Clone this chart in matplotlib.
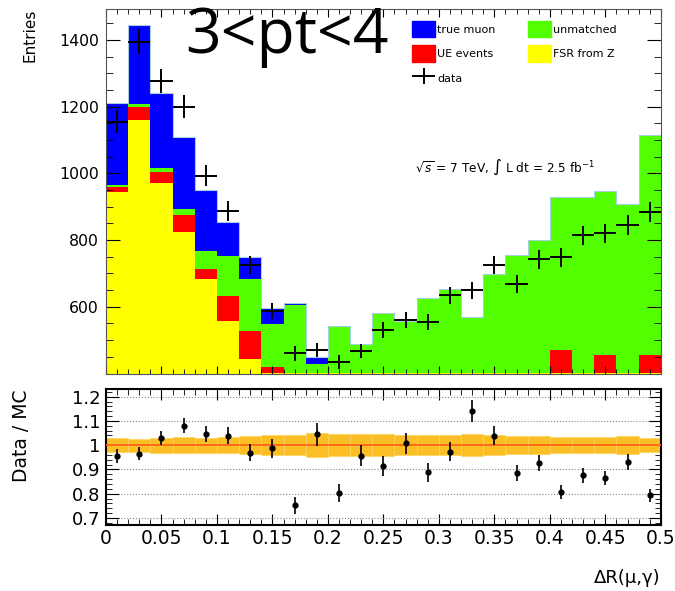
import numpy as np
import matplotlib
matplotlib.use("Agg")
import matplotlib.pyplot as plt
from matplotlib.patches import Patch
from matplotlib.legend_handler import HandlerErrorbar
from matplotlib.ticker import MultipleLocator

# binning in dR(mu, gamma)
edges = np.linspace(0.0, 0.5, 26)
centers = 0.5 * (edges[:-1] + edges[1:])

# MC stack components (bottom to top)
fsr_z = [943, 1160, 972, 825, 682, 557, 443, 403, 403, 403, 403, 403, 403,
         403, 403, 403, 403, 403, 403, 403, 403, 403, 403, 403, 403]
ue_events = [17, 38, 31, 51, 32, 75, 85, 17, 0, 0, 0, 0, 0,
             0, 0, 0, 0, 0, 0, 0, 67, 0, 52, 0, 52]
unmatched = [5, 9, 12, 16, 54, 120, 155, 128, 201, 27, 139, 85, 177,
             153, 222, 249, 167, 295, 352, 397, 458, 527, 493, 504, 660]
true_muon = [245, 238, 225, 218, 182, 102, 65, 47, 8, 20, 0, 0, 0,
             0, 0, 0, 0, 0, 0, 0, 0, 0, 0, 0, 0]

data = [1155, 1395, 1277, 1200, 993, 888, 725, 587, 460, 470, 435, 467, 530,
        560, 555, 635, 650, 725, 668, 742, 748, 815, 820, 845, 885]

# relative MC stat uncertainty per bin
mc_rel_err = [0.030, 0.027, 0.031, 0.032, 0.031, 0.034, 0.036, 0.042, 0.042,
              0.049, 0.045, 0.046, 0.046, 0.042, 0.040, 0.042, 0.046, 0.041,
              0.038, 0.037, 0.034, 0.034, 0.032, 0.036, 0.029]

c_blue, c_green, c_red, c_yellow = "#0000FF", "#52FF00", "#FF0000", "#FFFF00"

fig = plt.figure(figsize=(6.75, 5.91), dpi=100)
ax = fig.add_axes([0.157, 0.368, 0.822, 0.617])
ax2 = fig.add_axes([0.157, 0.112, 0.822, 0.230])

# stacked histogram
layers = [(fsr_z, c_yellow), (ue_events, c_red), (unmatched, c_green), (true_muon, c_blue)]
base = np.zeros(len(centers))
for vals, col in layers:
    top = base + np.array(vals, dtype=float)
    ax.stairs(top, edges, baseline=base, fill=True, color=col, lw=0)
    base = top
mc_total = base
ax.stairs(mc_total, edges, baseline=None, color="#a8cfe0", lw=0.8)

data = np.array(data, dtype=float)
derr = np.sqrt(data)
eb = ax.errorbar(centers, data, xerr=0.01, yerr=derr, fmt="none",
                 ecolor="black", elinewidth=1.4, capsize=0)

ax.set_xlim(0, 0.5)
ax.set_ylim(400, 1493)
ax.set_xticklabels([])
ax.xaxis.set_major_locator(MultipleLocator(0.05))
ax.xaxis.set_minor_locator(MultipleLocator(0.01))
ax.yaxis.set_major_locator(MultipleLocator(200))
ax.yaxis.set_minor_locator(MultipleLocator(50))
ax.tick_params(which="both", direction="in", top=True, right=True, labelsize=11.3, pad=5)
ax.tick_params(axis="y", which="major", length=10)
ax.tick_params(axis="y", which="minor", length=5)
ax.tick_params(axis="x", which="major", length=6)
ax.tick_params(axis="x", which="minor", length=3.5)
ax.set_yticks([600, 800, 1000, 1200, 1400])
for sp in ax.spines.values():
    sp.set_color("#555555")

handles = [Patch(color=c_blue), Patch(color=c_red), eb,
           Patch(color=c_green), Patch(color=c_yellow)]
labels = ["true muon", "UE events", "data", "unmatched", "FSR from Z"]
fig.legend(handles, labels, ncol=2, loc="upper left",
           bbox_to_anchor=(412 / 675, 1 - 21 / 591), bbox_transform=fig.transFigure,
           frameon=False, fontsize=8, borderpad=0, borderaxespad=0,
           handlelength=2.07, handleheight=1.9, handletextpad=0.2,
           labelspacing=0.72, columnspacing=2.9,
           handler_map={type(eb): HandlerErrorbar(xerr_size=1.0, yerr_size=0.7)})

fig.text(415 / 675, 1 - 167 / 591,
         r"$\sqrt{s}$ = 7 TeV, $\int$ L dt = 2.5 fb$^{-1}$",
         fontsize=8.7, va="center", ha="left")

fig.text(185 / 675, 1 - 53 / 591, "3<pt<4", fontsize=45, family="Open Sans",
         va="baseline", ha="left")

fig.text(30 / 675, 1 - 9 / 591, "Entries", rotation=90, fontsize=11,
         va="top", ha="center")

# ratio panel
ratio = data / mc_total
rerr = derr / mc_total
band = np.array(mc_rel_err)
ax2.bar(centers, 2 * band, width=0.02, bottom=1 - band, color="#FBBF25",
        edgecolor="#FDD35E", lw=0.5, zorder=2)
ax2.axhline(1.0, color="#FF6418", lw=1.3, zorder=3)
ax2.errorbar(centers, ratio, yerr=rerr, fmt="o", ms=3.5, color="black",
             elinewidth=1.2, capsize=0, zorder=4)

ax2.set_xlim(0, 0.5)
ax2.set_ylim(0.672, 1.232)
ax2.set_yticks([0.7, 0.8, 0.9, 1.0, 1.1, 1.2])
ax2.set_yticklabels(["0.7", "0.8", "0.9", "1", "1.1", "1.2"])
ax2.set_xticks(np.arange(0, 0.501, 0.05))
ax2.set_xticklabels(["0", "0.05", "0.1", "0.15", "0.2", "0.25", "0.3",
                     "0.35", "0.4", "0.45", "0.5"])
ax2.xaxis.set_minor_locator(MultipleLocator(0.01))
ax2.yaxis.set_minor_locator(MultipleLocator(0.02))
ax2.tick_params(which="both", direction="in", top=True, right=True)
ax2.tick_params(axis="x", which="major", length=8, labelsize=13.5, pad=3)
ax2.tick_params(axis="x", which="minor", length=4)
ax2.tick_params(axis="y", which="major", length=9, labelsize=13, pad=4)
ax2.tick_params(axis="y", which="minor", length=4.5)
ax2.yaxis.grid(True, ls=":", color="#888888", lw=0.8)
ax2.set_axisbelow(True)
for sp in ax2.spines.values():
    sp.set_linewidth(1.5)

fig.text(22 / 675, 1 - 436 / 591, "Data / MC", rotation=90, fontsize=13.5,
         va="center", ha="center")
fig.text(660 / 675, 1 - 578 / 591, "ΔR(μ,γ)", fontsize=13, va="center", ha="right")

fig.savefig("out.png", dpi=100)
